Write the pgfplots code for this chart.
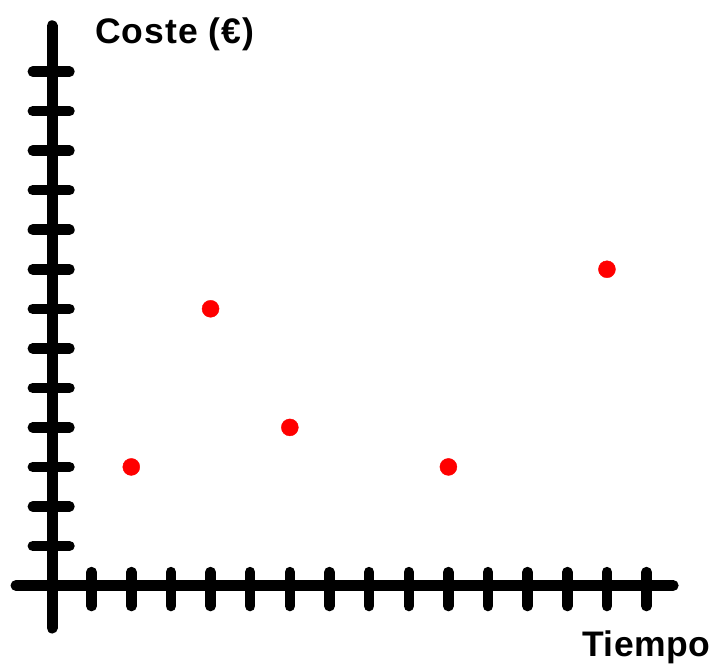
\documentclass[border=0pt]{standalone}
\usepackage{pgfplots}
\pgfplotsset{compat=1.18}
\usepackage{fontspec}
\setmainfont{Liberation Sans}
\newfontfamily\costefont[LetterSpace=3]{Liberation Sans}
\newfontfamily\tiempofont[LetterSpace=1.5]{Liberation Sans}
\begin{document}
\begin{tikzpicture}
\begin{axis}[
  scale only axis,
  width=715bp, height=666bp,
  xmin=-1.312, xmax=16.726,
  ymin=-2.036, ymax=14.812,
  axis lines=none,
  clip=false,
]
\path (axis cs:-1.312,-2.036) rectangle (axis cs:16.726,14.812);
% axes
\draw[line width=11bp, line cap=round, black] (axis cs:0,14.16) -- (axis cs:0,-1.075);
\draw[line width=11bp, line cap=round, black] (axis cs:-0.908,0) -- (axis cs:15.67,0);
% ticks
\pgfplotsinvokeforeach{1,...,13}{
  \draw[line width=10.5bp, line cap=round, black] (axis cs:-0.484,#1) -- (axis cs:0.441,#1);
}
\pgfplotsinvokeforeach{1,...,15}{
  \draw[line width=10.5bp, line cap=round, black] (axis cs:#1,0.34) -- (axis cs:#1,-0.52);
}
\addplot[only marks, mark=*, mark size=8.5bp, color=red, mark options={draw=red, fill=red}]
  coordinates {(2,3) (4,7) (6,4) (10,3) (14,8)};
\node[anchor=base west, inner sep=0pt, font=\costefont\fontsize{35.5bp}{42bp}\selectfont\bfseries] at (axis cs:1.082,13.716) {Coste (€)};
\node[anchor=base west, inner sep=0pt, font=\tiempofont\fontsize{35.5bp}{42bp}\selectfont\bfseries] at (axis cs:13.37,-1.801) {Tiempo};
\end{axis}
\end{tikzpicture}
\end{document}
